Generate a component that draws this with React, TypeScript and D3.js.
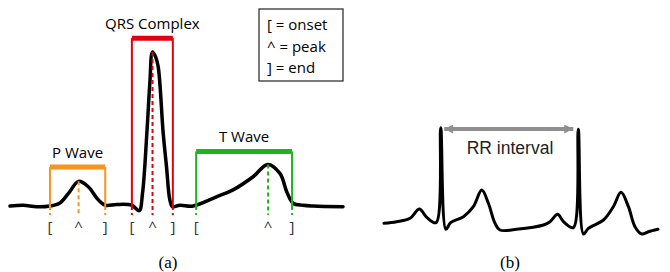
import React from "react";
import * as d3 from "d3";

// (a) single beat: time in ms, amplitude normalised to the R peak
const beatTime = [0, 40, 80, 120, 150, 175, 206, 235, 265, 286, 320, 366, 388, 398, 411, 420, 428, 437, 445, 460, 470, 480, 488, 510, 550, 620, 670, 730, 774, 811, 831, 850, 880, 911, 1000];
const beatValue = [0, 0.005, -0.005, 0, 0.02, 0.08, 0.16, 0.125, 0.04, 0.005, 0.01, 0.005, -0.03, 0.084, 0.474, 0.8, 1.0, 0.97, 0.905, 0.474, 0.255, 0.04, -0.005, 0.005, 0, 0.06, 0.105, 0.19, 0.27, 0.21, 0.093, 0.018, 0.005, 0, -0.005];

// wave annotations
const waveNames = ["P Wave", "QRS Complex", "T Wave"];
const waveOnset = [120, 366, 559];
const wavePeak = [206, 428, 775];
const waveEnd = [286, 489, 847];
const wavePeakValue = [0.16, 1.0, 0.27];
const waveBarLevel = [0.253, 1.09, 0.354];
const waveColors = ["#f7931e", "#e1000f", "#1eb41e"];
const markerLabels = ["[", "^", "]"];

const legendLines = ["[ = onset", "^ = peak", "] = end"];

// (b) two beats
const stripTime = [0, 46, 95, 129, 156, 190, 207, 226, 243, 290, 326, 357, 381, 405, 423, 484, 582, 606, 634, 655, 691, 709, 728, 746, 801, 837, 865, 892, 916, 941, 965, 1000];
const stripValue = [0.057, 0.073, 0.107, 0.2, 0.117, 0.063, 1.013, -0.003, 0.063, 0.123, 0.223, 0.39, 0.257, 0.057, -0.01, -0.003, 0.04, 0.073, 0.147, 0.073, 0.013, 0.997, -0.05, 0.007, 0.09, 0.223, 0.367, 0.223, 0.023, -0.05, -0.027, -0.003];
const rPeaks = [207, 709];

const calibri = "'Open Sans', sans-serif";

const App = () => {
  const xA = d3.scaleLinear().domain([0, 1000]).range([10, 343]);
  const yA = d3.scaleLinear().domain([0, 1]).range([206, 52]);
  const xB = d3.scaleLinear().domain([0, 1000]).range([384, 658]);
  const yB = d3.scaleLinear().domain([0, 1]).range([229, 129]);

  const lineA = d3
    .line<number>()
    .x((d, i) => xA(beatTime[i]))
    .y((d) => yA(d))
    .curve(d3.curveCatmullRom.alpha(0.5));

  const lineB = d3
    .line<number>()
    .x((d, i) => xB(stripTime[i]))
    .y((d) => yB(d))
    .curve(d3.curveCatmullRom.alpha(0.5));

  const dashBottom = yA(-0.058);
  const base = yA(0);

  return (
    <svg width={670} height={272} style={{ position: "absolute", left: 0, top: 0, background: "#fff" }}>
      <path d={lineA(beatValue) || ""} fill="none" stroke="#000" strokeWidth={3.5} strokeLinejoin="round" strokeLinecap="round" />

      {waveNames.map((name, i) => {
        const c = waveColors[i];
        const x0 = xA(waveOnset[i]);
        const x1 = xA(waveEnd[i]);
        const xp = xA(wavePeak[i]);
        const yb = yA(waveBarLevel[i]);
        return (
          <g key={name}>
            <line x1={x0} x2={x1} y1={yb} y2={yb} stroke={c} strokeWidth={5} />
            <line x1={x0} x2={x0} y1={yb} y2={base} stroke={c} strokeWidth={2} />
            <line x1={x1} x2={x1} y1={yb} y2={base} stroke={c} strokeWidth={2} />
            <line x1={x0} x2={x0} y1={base} y2={dashBottom} stroke={c} strokeWidth={2} strokeDasharray="4,3" />
            <line x1={x1} x2={x1} y1={base} y2={dashBottom} stroke={c} strokeWidth={2} strokeDasharray="4,3" />
            <line x1={xp} x2={xp} y1={yA(wavePeakValue[i])} y2={dashBottom} stroke={c} strokeWidth={2} strokeDasharray="4,3" />
            <text x={(x0 + x1) / 2} y={yb - 9.5} textAnchor="middle" fontFamily={calibri} fontSize={15} fill="#000">
              {name}
            </text>
            {[x0, xp, x1].map((x, j) => (
              <text key={j} x={x} y={232} textAnchor="middle" fontFamily={calibri} fontSize={15} fill="#333">
                {markerLabels[j]}
              </text>
            ))}
          </g>
        );
      })}

      <rect x={259} y={9} width={84} height={72} fill="#fff" stroke="#333" strokeWidth={1.3} />
      {legendLines.map((t, i) => (
        <text key={t} x={267} y={30 + i * 21.5} fontFamily={calibri} fontSize={15} fill="#000">
          {t}
        </text>
      ))}

      <text x={168} y={268} textAnchor="middle" fontFamily="'Liberation Serif', serif" fontSize={17} fill="#000">
        (a)
      </text>

      <path d={lineB(stripValue) || ""} fill="none" stroke="#000" strokeWidth={3} strokeLinejoin="round" strokeLinecap="round" />

      <defs>
        <marker id="rr-head" viewBox="0 0 10 10" refX={10} refY={5} markerWidth={10} markerHeight={9} markerUnits="userSpaceOnUse" orient="auto-start-reverse">
          <path d="M0,0 L10,5 L0,10 Z" fill="#8f8f8f" />
        </marker>
      </defs>
      <line
        x1={xB(rPeaks[0]) + 3.5}
        x2={xB(rPeaks[1]) - 5}
        y1={yB(1)}
        y2={yB(1)}
        stroke="#8f8f8f"
        strokeWidth={4}
        markerStart="url(#rr-head)"
        markerEnd="url(#rr-head)"
      />
      <text x={510} y={154} textAnchor="middle" fontFamily="'Liberation Sans', Arial, sans-serif" fontSize={17.5} fill="#222">
        RR interval
      </text>

      <text x={510} y={268} textAnchor="middle" fontFamily="'Liberation Serif', serif" fontSize={17} fill="#000">
        (b)
      </text>
    </svg>
  );
};

export default App;
